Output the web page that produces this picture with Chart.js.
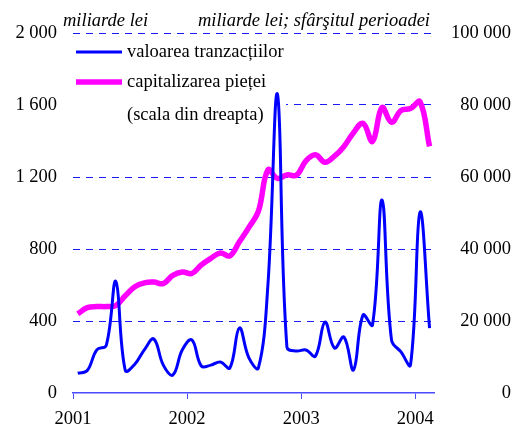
<!DOCTYPE html>
<html>
<head>
<meta charset="utf-8">
<script src="https://cdn.jsdelivr.net/npm/chart.js@4"></script>
<style>
  html, body { margin: 0; padding: 0; background: #fff; }
</style>
</head>
<body>
<canvas id="chart" width="528" height="430"></canvas>
<script>
const years = ["2001", "2002", "2003", "2004"];
const monthsPerYear = 12;

// monthly values, Jan 2001 - Feb 2004
const valoareaTranzactiilor = [
  110, 125, 240, 265, 620, 125, 160, 240, 300, 155, 100, 240,
  295, 150, 155, 172, 139, 361, 195, 139, 600, 1660, 255, 233,
  239, 205, 394, 250, 311, 128, 433, 378, 1072, 294, 228, 156,
  1005, 361
];
const capitalizareaPietei = [
  22000, 23700, 24000, 24000, 24300, 27000, 29500, 30600, 30800, 30400, 32700, 33600,
  33200, 35600, 37400, 38900, 38100, 42000, 46000, 50500, 62000, 59600, 60600, 60500,
  64500, 66200, 64100, 65800, 68500, 72300, 74900, 69900, 79300, 75200, 78500, 79000,
  80900, 68500
];

const leftLabel = "miliarde lei";
const rightLabel = "miliarde lei; sfârşitul perioadei";
const legendNote = "(scala din dreapta)";

const serif = "'Liberation Serif', 'Times New Roman', serif";
const fontSize = 18.5;
const gridBlue = "#1a1aff";

function spaced(v) {
  return String(v).replace(/\B(?=(\d{3})+(?!\d))/g, " ");
}

function toPoints(arr) {
  return arr.map((v, i) => ({ x: i + 0.5, y: v }));
}

// white box behind the legend (hides part of the 1 600 gridline)
const legendBox = {
  id: "legendBox",
  beforeDatasetsDraw(chart) {
    const ctx = chart.ctx;
    ctx.save();
    ctx.fillStyle = "#fff";
    ctx.fillRect(73, 40, 213, 88);
    ctx.restore();
  },
  afterDraw(chart) {
    const ctx = chart.ctx;
    const ds = chart.data.datasets;
    ctx.save();
    ctx.fillStyle = "#000";
    ctx.textBaseline = "middle";

    ctx.font = "italic " + fontSize + "px " + serif;
    ctx.textAlign = "left";
    ctx.fillText(leftLabel, 63, 21);
    ctx.textAlign = "right";
    ctx.fillText(rightLabel, 430, 21);

    ctx.font = fontSize + "px " + serif;
    ctx.textAlign = "left";
    const rows = [52, 82];
    ds.forEach((d, i) => {
      ctx.strokeStyle = d.borderColor;
      ctx.lineWidth = d.borderWidth;
      ctx.beginPath();
      ctx.moveTo(76, rows[i]);
      ctx.lineTo(122, rows[i]);
      ctx.stroke();
      ctx.fillText(d.label, 127, rows[i]);
    });
    ctx.fillText(legendNote, 127, 115);
    ctx.restore();
  }
};

new Chart(document.getElementById("chart"), {
  type: "line",
  data: {
    datasets: [
      {
        label: "valoarea tranzacțiilor",
        data: toPoints(valoareaTranzactiilor),
        borderColor: "#0000ff",
        borderWidth: 3,
        pointRadius: 0,
        tension: 0.4,
        yAxisID: "y",
        order: 1
      },
      {
        label: "capitalizarea pieței",
        data: toPoints(capitalizareaPietei),
        borderColor: "#ff00ff",
        borderWidth: 5.5,
        pointRadius: 0,
        tension: 0.4,
        yAxisID: "y2",
        order: 2
      }
    ]
  },
  options: {
    responsive: false,
    animation: false,
    layout: { padding: { top: 33, right: 17, bottom: 0, left: 0 } },
    plugins: {
      legend: { display: false },
      tooltip: { enabled: false }
    },
    scales: {
      x: {
        type: "linear",
        min: 0,
        max: years.length * monthsPerYear - 10,
        afterBuildTicks: (s) => {
          s.ticks = years.map((y, i) => ({ value: i * monthsPerYear }));
        },
        ticks: {
          callback: (v) => years[v / monthsPerYear],
          color: "#000",
          font: { family: serif, size: fontSize },
          padding: 9,
          maxRotation: 0,
          autoSkip: false
        },
        grid: { drawOnChartArea: false, drawTicks: true, tickLength: 6, color: "#4a4aff" },
        border: { display: true, color: "#4a4aff", width: 1.5 },
        afterFit: (s) => { s.height = 37; }
      },
      y: {
        position: "left",
        min: 0,
        max: 2000,
        ticks: {
          stepSize: 400,
          callback: (v) => spaced(v),
          color: "#000",
          font: { family: serif, size: fontSize },
          padding: 16
        },
        grid: {
          drawTicks: false,
          color: (c) => (c.tick && c.tick.value === 0 ? "rgba(0,0,0,0)" : gridBlue),
          lineWidth: 1
        },
        border: { display: false, dash: [7, 6] },
        afterFit: (s) => { s.width = 73; }
      },
      y2: {
        position: "right",
        min: 0,
        max: 100000,
        ticks: {
          stepSize: 20000,
          callback: (v) => spaced(v),
          color: "#000",
          font: { family: serif, size: fontSize },
          padding: 16,
          crossAlign: "far"
        },
        grid: { drawOnChartArea: false, drawTicks: false },
        border: { display: false },
        afterFit: (s) => { s.width = 511 - 434.3; }
      }
    }
  },
  plugins: [legendBox]
});
</script>
</body>
</html>
